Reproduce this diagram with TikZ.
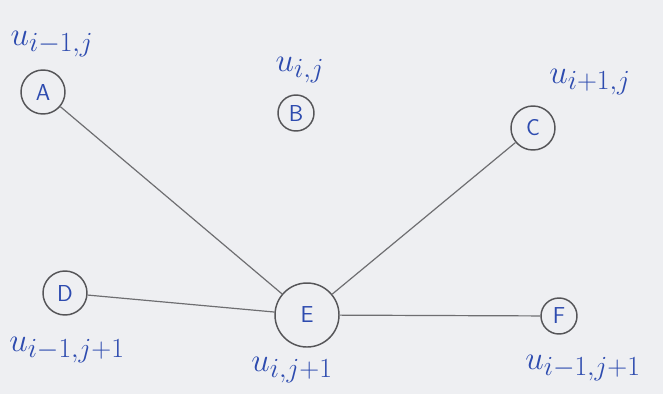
\documentclass[tikz,border=0pt]{standalone}
\usetikzlibrary{positioning}
\definecolor{ink}{RGB}{45,75,175}
\definecolor{pencil}{RGB}{85,85,88}
\definecolor{paper}{RGB}{238,239,242}
\tikzset{
  pt/.style={circle, draw=pencil, line width=1.1pt, text=ink, inner sep=0pt,
             minimum size=33pt, font=\LARGE\sffamily},
  ptS/.style={pt, minimum size=27pt},
  ptL/.style={pt, minimum size=48pt},
  edge/.style={draw=pencil!85, line width=0.9pt},
  ulbl/.style={text=ink, font=\Huge, inner sep=0pt},
}
\begin{document}
\begin{tikzpicture}[x=0.75pt,y=-0.75pt]

% ================= sheet =================
\fill[paper] (0,0) rectangle (663,394);
\useasboundingbox (0,0) rectangle (663,394);

% ================= row j =================
\node[pt]  (A) at (43,92)   {A};
\node[ptS] (B) at (296,113) {B};
\node[pt]  (C) at (533,128) {C};

% ================= row j+1 =================
\node[pt]  (D) at (65,293)  {D};
\node[ptL] (E) at (307,315) {E};
\node[ptS] (F) at (559,316) {F};

% ================= grid values =================
\node[ulbl] (lA) at (52,44)  {$u_{i-1,j}$};
\node[ulbl] (lB) at (300,70) {$u_{i,j}$};
\node[ulbl] (lC) at (590,82) {$u_{i+1,j}$};
\node[ulbl] (lD) at (67,350) {$u_{i-1,j+1}$};
\node[ulbl] (lE) at (292,370) {$u_{i,j+1}$};
\node[ulbl] (lF) at (583,368) {$u_{i-1,j+1}$};

% ================= connections =================
\draw[edge] (A) -- (E);
\draw[edge] (C) -- (E);
\draw[edge] (D) -- (E);
\draw[edge] (E) -- (F);

\end{tikzpicture}
\end{document}
